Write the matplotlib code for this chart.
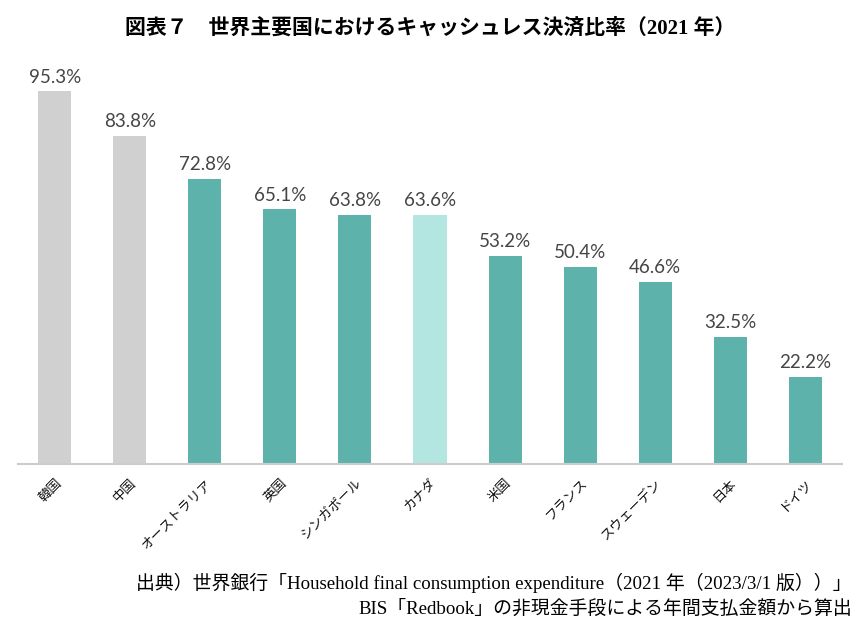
import matplotlib
matplotlib.use('Agg')
import matplotlib.pyplot as plt

# キャッシュレス決済比率 (2021年)
countries = ['韓国', '中国', 'オーストラリア', '英国', 'シンガポール', 'カナダ',
             '米国', 'フランス', 'スウェーデン', '日本', 'ドイツ']
ratios = [95.3, 83.8, 72.8, 65.1, 63.8, 63.6, 53.2, 50.4, 46.6, 32.5, 22.2]
groups = ['gray', 'gray', 'teal', 'teal', 'teal', 'light',
          'teal', 'teal', 'teal', 'teal', 'teal']

palette = {'gray': '#d0d0d0', 'teal': '#5db3ab', 'light': '#b3e5e1'}
jp = ['Noto Sans CJK JP', 'DejaVu Sans']
serif_jp = ['Liberation Serif', 'Noto Sans CJK JP']

fig = plt.figure(figsize=(8.62, 6.34), dpi=100)
ax = fig.add_axes([18 / 862, 1 - 464 / 634, 824 / 862, 391 / 634])

x = list(range(len(countries)))
ax.bar(x, ratios, width=0.44, color=[palette[g] for g in groups])

for i, v in enumerate(ratios):
    ax.text(i, v + 1.5, f'{v:.1f}%', ha='center', va='bottom',
            fontsize=13.5, fontweight='normal', color='#454545',
            family=['Lato', 'DejaVu Sans'])

ax.set_xlim(-0.493, 10.493)
ax.set_ylim(0, 100)
ax.set_yticks([])
ax.set_xticks(x)
ax.set_xticklabels(countries, rotation=45, ha='right', va='top',
                   rotation_mode='anchor', fontsize=9.5, family=jp, color='#111111')
ax.tick_params(axis='x', length=0, pad=9)
for s in ['top', 'right', 'left']:
    ax.spines[s].set_visible(False)
ax.spines['bottom'].set_color('#cccccc')
ax.spines['bottom'].set_linewidth(1.5)

fig.text(430 / 862, 1 - 28 / 634, '図表７　世界主要国におけるキャッシュレス決済比率（2021 年）',
         ha='center', va='center', fontsize=15, fontweight='bold', family=serif_jp)

fig.text(852 / 862, 1 - 583 / 634,
         '出典）世界銀行「Household final consumption expenditure（2021 年（2023/3/1 版））」',
         ha='right', va='center', fontsize=13.6, family=serif_jp)
fig.text(852 / 862, 1 - 609 / 634,
         'BIS「Redbook」の非現金手段による年間支払金額から算出',
         ha='right', va='center', fontsize=13.6, family=serif_jp)

fig.savefig('out.png', dpi=100)
